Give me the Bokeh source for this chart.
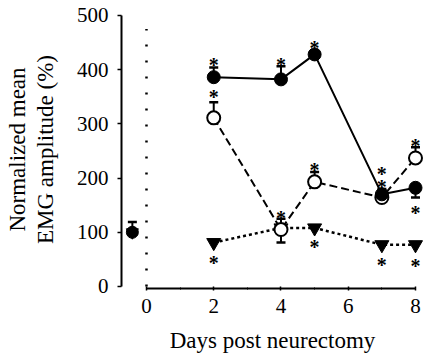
from bokeh.plotting import figure
from bokeh.models import Range1d, FixedTicker, LinearAxis
from bokeh.core.properties import value
from bokeh.embed import file_html
from bokeh.resources import INLINE

# ---- data ----
days = [2, 4, 5, 7, 8]
filled_vals = [386, 382, 428, 170, 182]
filled_err_hi = [404, 406, 428, 170, 182]
filled_err_lo = [386, 382, 428, 170, 164]
open_vals = [311, 105, 193, 164, 237]
open_err_hi = [340, 125, 211, 180, 257]
open_err_lo = [311, 81, 193, 164, 237]
tri_vals = [81, 108, 108, 77, 77]
ctrl_day = [-0.42]
ctrl_val = [100]
ctrl_err_hi = [119]

star_x = [2, 4, 5, 7, 8, 2, 4, 5, 7, 8, 2, 5, 7, 8]
star_y = [419, 419, 450, 219, 147, 360, 138, 226, 195, 270, 55, 83, 50, 48]

x_ticks = [0, 2, 4, 6, 8]
y_ticks = [0, 100, 200, 300, 400, 500]
x_title = "Days post neurectomy"
y_title_lines = ["Normalized mean", "EMG amplitude (%)"]

FONT = "Liberation Serif"

p = figure(width=423, height=355, output_backend="svg", toolbar_location=None,
           x_range=Range1d(-0.743, 8.238), y_range=Range1d(-3.7, 509),
           min_border_left=121, min_border_right=0, min_border_top=10, min_border_bottom=66)
p.outline_line_color = None
p.grid.visible = False
p.background_fill_color = "white"

# axes
p.xaxis.bounds = (0, 8)
p.yaxis.bounds = (0, 500)
p.xaxis.ticker = FixedTicker(ticks=x_ticks, minor_ticks=[1, 3, 5, 7])
p.yaxis.ticker = FixedTicker(ticks=y_ticks)
for ax in (p.xaxis, p.yaxis):
    ax.axis_line_width = 2
    ax.axis_line_color = "black"
    ax.major_tick_line_color = "black"
    ax.major_tick_line_width = 1.5
    ax.major_label_text_font = FONT
    ax.major_label_text_font_size = "21px"
    ax.major_label_text_color = "black"
    ax.axis_label_text_font = FONT
    ax.axis_label_text_font_size = "23px"
    ax.axis_label_text_font_style = "normal"
    ax.axis_label_text_color = "black"
p.xaxis.major_tick_in = 2
p.xaxis.major_tick_out = 2
p.xaxis.minor_tick_in = 1
p.xaxis.minor_tick_out = 1
p.xaxis.minor_tick_line_color = "black"
p.xaxis.major_label_standoff = 8
p.xaxis.axis_label = x_title
p.xaxis.axis_label_standoff = 12
p.yaxis.major_tick_in = 0
p.yaxis.major_tick_out = 4
p.yaxis.minor_tick_line_color = None
p.yaxis.major_label_standoff = 9
p.yaxis.axis_label = y_title_lines[1]
p.yaxis.axis_label_standoff = 16

# outer axis carrying the first line of the y title
ax2 = LinearAxis(ticker=FixedTicker(ticks=[]), axis_label=y_title_lines[0],
                 axis_line_color=None, major_tick_line_color=None, minor_tick_line_color=None,
                 major_label_text_font_size="0px", major_tick_in=0, major_tick_out=0,
                 minor_tick_in=0, minor_tick_out=0, major_label_standoff=0,
                 axis_label_standoff=0, axis_label_text_font=FONT,
                 axis_label_text_font_size="23px", axis_label_text_font_style="normal",
                 axis_label_text_color="black")
p.add_layout(ax2, "left")

# dotted vertical line at day 0
p.line([0, 0], [0, 475], line_color="black", line_width=2.5, line_dash="2 14")

# series lines
p.line(days, filled_vals, line_color="black", line_width=2)
p.line(days, open_vals, line_color="black", line_width=2, line_dash="8 4")
p.line(days, tri_vals, line_color="black", line_width=2.5, line_dash="3 3")

# error bars
def errbars(xs, ends, base):
    sx = [x for x, e, b in zip(xs, ends, base) if e != b]
    se = [e for e, b in zip(ends, base) if e != b]
    sb = [b for e, b in zip(ends, base) if e != b]
    p.segment(sx, sb, sx, se, line_color="black", line_width=2)
    p.scatter(sx, se, marker="dash", size=9, line_color="black", line_width=2.5)

errbars(days, filled_err_hi, filled_vals)
errbars(days, filled_err_lo, filled_vals)
errbars(days, open_err_hi, open_vals)
errbars(days, open_err_lo, open_vals)
errbars(ctrl_day, ctrl_err_hi, ctrl_val)

# markers
p.scatter(days, tri_vals, marker="inverted_triangle", size=14, fill_color="black", line_color="black")
p.scatter(days, open_vals, marker="circle", size=13, fill_color="white", line_color="black", line_width=2)
p.scatter(days, filled_vals, marker="circle", size=13, fill_color="black", line_color="black")
p.scatter(ctrl_day, ctrl_val, marker="circle", size=12, fill_color="black", line_color="black")
p.scatter(ctrl_day, ctrl_val, marker="inverted_triangle", size=12, fill_color="black", line_color="black")

# significance asterisks
p.text(star_x, star_y, text=["*"] * len(star_x), text_font=value(FONT), text_font_size="20px",
       text_font_style="bold", text_align="center", text_baseline="middle", y_offset=6,
       text_color="black")

open("out.html", "w").write(file_html(p, INLINE))
